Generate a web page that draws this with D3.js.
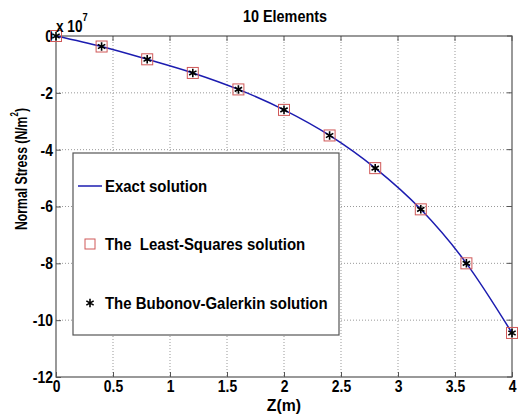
<!DOCTYPE html>
<html>
<head>
<meta charset="utf-8">
<script src="https://cdn.jsdelivr.net/npm/d3@7"></script>
<style>
    body { margin: 0; background: #fff; }
    text { font-family: "Liberation Sans", Arial, sans-serif; font-weight: bold; fill: #000; }
</style>
</head>
<body>
<svg id="chart" width="519" height="416"></svg>
<script>
// data, stress in units of 1e7 N/m^2
let zNodes = [0, 0.4, 0.8, 1.2, 1.6, 2.0, 2.4, 2.8, 3.2, 3.6, 4.0];
let exactStress = [0, -0.37, -0.82, -1.3, -1.88, -2.6, -3.5, -4.65, -6.1, -8.0, -10.45];
let leastSquares = [0, -0.37, -0.82, -1.3, -1.88, -2.6, -3.5, -4.65, -6.1, -8.0, -10.45];
let galerkin = [0, -0.37, -0.82, -1.3, -1.88, -2.6, -3.5, -4.65, -6.1, -8.0, -10.45];
let xTicks = [0, 0.5, 1, 1.5, 2, 2.5, 3, 3.5, 4];
let yTicks = [0, -2, -4, -6, -8, -10, -12];
let legendLabels = ["Exact solution", "The  Least-Squares solution", "The Bubonov-Galerkin solution"];

let svg = d3.select("#chart");
let pLeft = 56, pRight = 512, pTop = 36, pBottom = 377;

// squeeze text horizontally round its own x (the picture's font is narrow)
function squeeze(sel, sx) {
    sel.each(function () {
        let x = +(this.getAttribute("x") || 0);
        d3.select(this).attr("transform", "translate(" + x + ",0) scale(" + sx + ",1) translate(" + (-x) + ",0)");
    });
}

let xScale = d3.scaleLinear().domain([0, 4]).range([pLeft, pRight]);
let yScale = d3.scaleLinear().domain([0, -12]).range([pTop, pBottom]);

// grid
svg.append("g").selectAll("line")
    .data(xTicks.slice(1, -1))
    .enter().append("line")
    .attr("x1", d => xScale(d)).attr("x2", d => xScale(d))
    .attr("y1", pTop).attr("y2", pBottom)
    .attr("stroke", "#999").attr("stroke-dasharray", "1,2");
svg.append("g").selectAll("line")
    .data(yTicks.slice(1, -1))
    .enter().append("line")
    .attr("y1", d => yScale(d)).attr("y2", d => yScale(d))
    .attr("x1", pLeft).attr("x2", pRight)
    .attr("stroke", "#999").attr("stroke-dasharray", "1,2");

// axes
let xAxis = d3.axisBottom(xScale).tickValues(xTicks).tickSize(-5).tickPadding(3)
    .tickFormat(d3.format("~g"));
svg.append("g")
    .attr("transform", "translate(0," + pBottom + ")")
    .call(xAxis)
    .call(g => g.select(".domain").remove())
    .call(g => g.selectAll("line").attr("stroke", "#555"))
    .call(g => g.selectAll("text").attr("font-size", 17).call(squeeze, 0.82));

let yAxis = d3.axisLeft(yScale).tickValues(yTicks).tickSize(-5).tickPadding(3)
    .tickFormat(d => d === 0 ? "0" : "-" + Math.abs(d));
svg.append("g")
    .attr("transform", "translate(" + pLeft + ",0)")
    .call(yAxis)
    .call(g => g.select(".domain").remove())
    .call(g => g.selectAll("line").attr("stroke", "#555"))
    .call(g => g.selectAll("text").attr("font-size", 17).call(squeeze, 0.82));

// right/top ticks
svg.append("g").selectAll("line").data(xTicks).enter().append("line")
    .attr("x1", d => xScale(d)).attr("x2", d => xScale(d))
    .attr("y1", pTop).attr("y2", pTop + 5).attr("stroke", "#555");
svg.append("g").selectAll("line").data(yTicks).enter().append("line")
    .attr("y1", d => yScale(d)).attr("y2", d => yScale(d))
    .attr("x1", pRight).attr("x2", pRight - 5).attr("stroke", "#555");

svg.append("rect")
    .attr("x", pLeft).attr("y", pTop)
    .attr("width", pRight - pLeft).attr("height", pBottom - pTop)
    .attr("fill", "none").attr("stroke", "#555").attr("stroke-width", 1.2);

// exact curve
let line = d3.line()
    .x((d, i) => xScale(zNodes[i]))
    .y(d => yScale(d))
    .curve(d3.curveMonotoneX);
svg.append("path")
    .datum(exactStress)
    .attr("d", line)
    .attr("fill", "none")
    .attr("stroke", "#1c1cb0")
    .attr("stroke-width", 1.5);

// least squares squares
svg.append("g").selectAll("rect")
    .data(leastSquares)
    .enter().append("rect")
    .attr("x", (d, i) => xScale(zNodes[i]) - 5.5)
    .attr("y", d => yScale(d) - 5.5)
    .attr("width", 11).attr("height", 11)
    .attr("fill", "none").attr("stroke", "#d05858").attr("stroke-width", 1);

// galerkin stars
let star = d3.symbol().type(d3.symbolAsterisk).size(50);
svg.append("g").selectAll("path")
    .data(galerkin)
    .enter().append("path")
    .attr("d", star)
    .attr("transform", (d, i) => "translate(" + xScale(zNodes[i]) + "," + yScale(d) + ")")
    .attr("stroke", "#000").attr("stroke-width", 1.6).attr("fill", "none");

// legend
let legend = svg.append("g");
legend.append("rect")
    .attr("x", 73).attr("y", 153).attr("width", 266).attr("height", 182)
    .attr("fill", "#fff").attr("stroke", "#555").attr("stroke-width", 1.2);
let rowY = [186, 244, 303];
legend.append("line")
    .attr("x1", 78).attr("x2", 102).attr("y1", rowY[0]).attr("y2", rowY[0])
    .attr("stroke", "#1c1cb0").attr("stroke-width", 1.5);
legend.append("rect")
    .attr("x", 85).attr("y", rowY[1] - 5).attr("width", 10).attr("height", 10)
    .attr("fill", "none").attr("stroke", "#d05858");
legend.append("path")
    .attr("d", star)
    .attr("transform", "translate(90," + rowY[2] + ")")
    .attr("stroke", "#000").attr("stroke-width", 1.6).attr("fill", "none");
legend.selectAll("text.lbl")
    .data(legendLabels)
    .enter().append("text")
    .attr("class", "lbl")
    .attr("x", 105)
    .attr("y", (d, i) => rowY[i] + 6)
    .attr("font-size", 17)
    .style("white-space", "pre")
    .text(d => d)
    .call(squeeze, 0.88);

// titles
svg.append("text")
    .attr("x", 285).attr("y", 22)
    .attr("text-anchor", "middle").attr("font-size", 16)
    .text("10 Elements")
    .call(squeeze, 0.9);

let mult = svg.append("text").attr("x", 56).attr("y", 32).attr("font-size", 16);
mult.append("tspan").text("x 10");
mult.append("tspan").attr("font-size", 11).attr("dy", -11).text("7");
mult.call(squeeze, 0.85);

svg.append("text")
    .attr("x", 284).attr("y", 411)
    .attr("text-anchor", "middle").attr("font-size", 17)
    .text("Z(m)")
    .call(squeeze, 0.93);

let ylab = svg.append("g")
    .attr("transform", "translate(27,169) rotate(-90)")
    .append("text")
    .attr("x", 0).attr("y", 0)
    .attr("text-anchor", "middle").attr("font-size", 17);
ylab.append("tspan").text("Normal Stress (N/m");
ylab.append("tspan").attr("font-size", 11).attr("dy", -9).text("2");
ylab.append("tspan").attr("dy", 9).text(")");
ylab.call(squeeze, 0.72);
</script>
</body>
</html>
